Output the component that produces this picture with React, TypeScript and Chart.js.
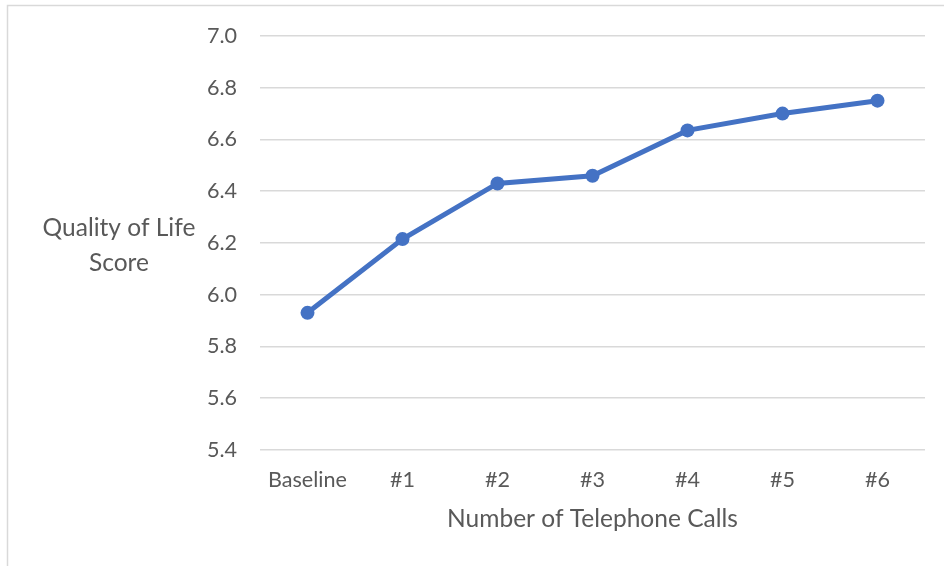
import React, { useEffect, useRef } from "react";
import { Chart, registerables } from "chart.js";

Chart.register(...registerables);

const categories = ["Baseline", "#1", "#2", "#3", "#4", "#5", "#6"];
const qualityScores = [5.93, 6.215, 6.43, 6.46, 6.635, 6.7, 6.75];
const yTitleLines = ["Quality of Life", "Score"];
const xTitle = "Number of Telephone Calls";

const FONT = "Lato, 'Open Sans', sans-serif";
const TEXT = "#595959";
const GRID = "#d9d9d9";
const BLUE = "#4472C4";

function fitSize(text: string, width: number): number {
  const c = document.createElement("canvas").getContext("2d");
  if (!c) return 20;
  c.font = `100px ${FONT}`;
  const w = c.measureText(text).width;
  return (width * 100) / w;
}

export default function App() {
  const ref = useRef<HTMLCanvasElement | null>(null);

  useEffect(() => {
    document.body.style.margin = "0";
    const canvas = ref.current;
    if (!canvas) return;
    const tickSize = fitSize("Baseline", 79);
    const titleSize = fitSize(xTitle, 291);
    const titleLH = titleSize * 1.2;
    const tickLH = tickSize * 1.2;

    const frame = {
      id: "frame",
      beforeDraw(chart: any) {
        const ctx = chart.ctx;
        ctx.save();
        ctx.fillStyle = "#ffffff";
        ctx.fillRect(0, 0, chart.width, chart.height);
        ctx.strokeStyle = GRID;
        ctx.lineWidth = 1.5;
        ctx.strokeRect(7.5, 5.5, 1200, 1200);
        ctx.restore();
      },
      afterDraw(chart: any) {
        const ctx = chart.ctx;
        ctx.save();
        ctx.fillStyle = TEXT;
        ctx.font = `${titleSize}px ${FONT}`;
        ctx.textAlign = "center";
        ctx.textBaseline = "middle";
        ctx.fillText(yTitleLines[0], 119, 228);
        ctx.fillText(yTitleLines[1], 119, 263);
        ctx.restore();
      },
    };

    const chart = new Chart(canvas, {
      type: "line",
      data: {
        labels: categories,
        datasets: [
          {
            data: qualityScores,
            borderColor: BLUE,
            backgroundColor: BLUE,
            borderWidth: 5,
            pointRadius: 7,
            pointHoverRadius: 7,
            pointBorderWidth: 0,
            pointBackgroundColor: BLUE,
            tension: 0,
            fill: false,
          },
        ],
      },
      options: {
        animation: false,
        responsive: false,
        events: [],
        layout: { padding: { top: 34, right: 19, left: 0, bottom: 0 } },
        plugins: {
          legend: { display: false },
          tooltip: { enabled: false },
          title: { display: false },
        },
        scales: {
          x: {
            offset: true,
            grid: { display: false, drawTicks: false, tickLength: 0 },
            border: { display: false },
            ticks: {
              color: TEXT,
              font: { family: FONT, size: tickSize },
              padding: 480 - 450 - tickLH / 2,
              maxRotation: 0,
              autoSkip: false,
            },
            title: {
              display: true,
              text: xTitle,
              color: TEXT,
              font: { family: FONT, size: titleSize },
              padding: { top: 0, bottom: 566 - 519 - titleLH / 2 },
            },
            afterFit(scale: any) {
              scale.height = 116;
            },
          },
          y: {
            min: 5.4,
            max: 7.0,
            grid: { color: GRID, lineWidth: 1.5, drawTicks: false, tickLength: 0 },
            border: { display: false },
            ticks: {
              stepSize: 0.2,
              color: TEXT,
              font: { family: FONT, size: tickSize },
              padding: 23,
              callback: (v: any) => Number(v).toFixed(1),
            },
            afterFit(scale: any) {
              scale.width = 260;
            },
          },
        },
      },
      plugins: [frame],
    });
    return () => chart.destroy();
  }, []);

  return (
    <div style={{ width: 944, height: 566 }}>
      <canvas ref={ref} width={944} height={566} style={{ display: "block" }} />
    </div>
  );
}
